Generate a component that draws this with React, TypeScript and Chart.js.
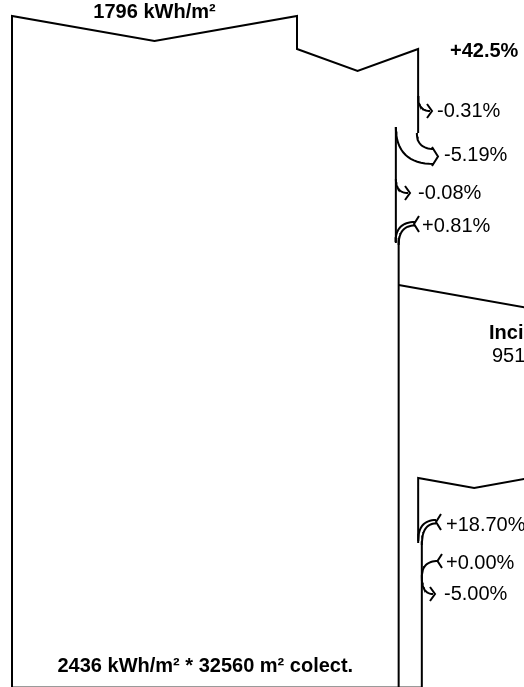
import React, { useEffect, useRef } from "react";
import { Chart, registerables } from "chart.js";
Chart.register(...registerables);

// ---------- data ----------
const globalHorizontal = 1796; // kWh/m²
const frontSteps = [
  "Incidencia global en plano receptor",
  "Sombras cercanas: pérdida de irradiancia",
  "Factor IAM en global",
  "Factor de pérdidas por suciedad",
  "Reflexión del suelo en lado frontal",
];
const frontPercents = [42.5, -0.31, -5.19, -0.08, 0.81];
const effectiveIrradiation = 2436; // kWh/m²
const collectorArea = 32560; // m²
const groundTitle = "Incidencia global en el suelo";
const groundValue = 951;
const rearSteps = [
  "Difuso del cielo en lado posterior",
  "Haz efectivo en lado posterior",
  "Pérdidas por sombreado en lado posterior",
];
const rearPercents = [18.7, 0.0, -5.0];
const rearBase = 123; // kWh/m² reaching rear side before the gains (estimated)

// ---------- layout (pixels) ----------
const LEFT = 12;
const K = 285 / 1796; // px per kWh/m²
const CANVAS_W = 524;
const CANVAS_H = 687;
const X_MIN = (0 - LEFT) / K;
const X_MAX = (CANVAS_W - LEFT) / K;
const BOTTOM = 688;
const FONT = "'Liberation Sans', Arial, sans-serif";

type Pt = { x: number; y: number };
type Line = { pts: Pt[]; color: string; width: number };
type Txt = { text: string; x: number; y: number; bold: boolean; size: number; align: CanvasTextAlign };

const P = (x: number, y: number): Pt => ({ x: (x - LEFT) / K, y });

function quad(x0: number, y0: number, cx: number, cy: number, x1: number, y1: number, n = 16): Pt[] {
  const out: Pt[] = [];
  for (let i = 0; i <= n; i++) {
    const t = i / n;
    const a = (1 - t) * (1 - t), b = 2 * (1 - t) * t, c = t * t;
    out.push(P(a * x0 + b * cx + c * x1, a * y0 + b * cy + c * y1));
  }
  return out;
}

function fmt(p: number, d = 2) {
  return (p < 0 ? "-" : "+") + Math.abs(p).toFixed(d) + "%";
}

function buildGeometry() {
  const lines: Line[] = [];
  const texts: Txt[] = [];
  const L = (pts: Pt[], width = 2, color = "#000") => lines.push({ pts, width, color });
  const T = (text: string, x: number, y: number, bold = false, size = 20, align: CanvasTextAlign = "left") =>
    texts.push({ text, x: (x - LEFT) / K, y, bold, size, align });

  // energies along the front column
  const E: number[] = [globalHorizontal];
  frontPercents.forEach((p) => E.push(E[E.length - 1] * (1 + p / 100)));
  const ex = (e: number) => LEFT + e * K;
  const [x0, x1, x2, x3, x4, x5] = E.map(ex);

  // top box and the +42.5% gain box
  L([
    P(LEFT, BOTTOM),
    P(LEFT, 16),
    P((LEFT + x0) / 2, 41),
    P(x0, 16),
    P(x0, 49),
    P((x0 + x1) / 2, 71),
    P(x1, 49),
    P(x1, 133),
  ]);
  T(`${globalHorizontal} kWh/m²`, (LEFT + x0) / 2, 12, true, 20, "center");
  T(fmt(frontPercents[0], 1), 450, 51, true, 20);

  // -0.31 %
  L(quad(x1, 96, x1, 111, 430, 111));
  L([P(427, 104), P(432, 111), P(427, 118)]);
  T(fmt(frontPercents[1]), 437, 111);

  // -5.19 %
  L(quad(x2, 133, x2, 149, 434, 149));
  L(quad(x3, 127, x3, 164, 434, 164));
  L([P(432, 147), P(438, 156.5), P(432, 166)]);
  L([P(x3, 127), P(x3, 243)]);
  T(fmt(frontPercents[2]), 444, 155);

  // -0.08 %
  L(quad(x3, 179, x3, 193, 408, 193));
  L([P(405, 186), P(410, 193), P(405, 200)]);
  T(fmt(frontPercents[3]), 418, 193);

  // +0.81 % gain (double line)
  L(quad(415, 222, x4, 222, x4, 242));
  L(quad(415, 225.5, x5, 225.5, x5, 245));
  L([P(419, 216), P(414, 224), P(419, 232)]);
  T(fmt(frontPercents[4]), 422, 226);
  L([P(x5, 238), P(x5, BOTTOM)]);

  T(`${effectiveIrradiation} kWh/m² * ${collectorArea} m² colect.`, (LEFT + x5) / 2, 666, true, 20, "center");

  // ground / rear column
  L([P(x5, 285), P(x5 + 240, 285 + 240 * 0.177)]);
  T(groundTitle, 489, 333, true, 20);
  T(`${groundValue} kWh/m²`, 492, 356, false, 20);

  const R: number[] = [rearBase];
  rearPercents.forEach((p) => R.push(R[R.length - 1] * (1 + p / 100)));
  const rx = R.map((r) => x5 + r * K);

  L([P(rx[0] + 112, 478), P(rx[0] + 56, 488), P(rx[0], 478), P(rx[0], 543)]);
  // +18.70 % gain
  L(quad(436, 520, rx[0], 520, rx[0], 541));
  L(quad(436, 523.5, rx[1], 523.5, rx[1], 545));
  L([P(441, 514), P(436, 522), P(441, 530)]);
  T(fmt(rearPercents[0]), 446, 525);
  L([P(rx[1], 541), P(rx[1], BOTTOM)]);
  // +0.00 %
  L(quad(438, 561, rx[2], 561, rx[2], 577));
  L([P(442, 554), P(437.5, 561), P(442, 568)]);
  T(fmt(rearPercents[1]), 446, 563);
  // -5.00 %
  L(quad(rx[2], 577, rx[2], 594, 433, 594));
  L([P(430, 587), P(435, 594), P(430, 601)]);
  T(fmt(rearPercents[2]), 444, 594);

  // bottom edge (faint)
  L([P(LEFT, 686.5), P(rx[1], 686.5)], 1, "#9a9a9a");

  return { lines, texts };
}

export default function App() {
  const ref = useRef<HTMLCanvasElement>(null);
  useEffect(() => {
    document.body.style.overflow = "hidden";
    const g = buildGeometry();
    const textPlugin = {
      id: "diagramText",
      afterDatasetsDraw(chart: any) {
        const { ctx, scales } = chart;
        ctx.save();
        ctx.fillStyle = "#000";
        ctx.textBaseline = "middle";
        for (const t of g.texts) {
          ctx.font = `${t.bold ? "bold " : ""}${t.size}px ${FONT}`;
          ctx.textAlign = t.align;
          ctx.fillText(t.text, scales.x.getPixelForValue(t.x), scales.y.getPixelForValue(t.y));
        }
        ctx.restore();
      },
    };
    const chart = new Chart(ref.current as HTMLCanvasElement, {
      type: "scatter",
      data: {
        datasets: g.lines.map((l) => ({
          data: l.pts,
          showLine: true,
          borderColor: l.color,
          borderWidth: l.width,
          pointRadius: 0,
          pointHoverRadius: 0,
          fill: false,
          tension: 0,
          borderJoinStyle: "miter" as const,
        })),
      },
      options: {
        animation: false,
        responsive: false,
        devicePixelRatio: 1,
        events: [],
        layout: { padding: 0 },
        plugins: { legend: { display: false }, tooltip: { enabled: false } },
        scales: {
          x: { type: "linear", display: false, min: X_MIN, max: X_MAX },
          y: { type: "linear", display: false, min: 0, max: CANVAS_H, reverse: true },
        },
      },
      plugins: [textPlugin],
    });
    return () => chart.destroy();
  }, []);
  return (
    <div style={{ position: "fixed", left: 0, top: 0, width: CANVAS_W, height: CANVAS_H }}>
      <canvas ref={ref} width={CANVAS_W} height={CANVAS_H} style={{ display: "block", width: CANVAS_W, height: CANVAS_H }} />
    </div>
  );
}
